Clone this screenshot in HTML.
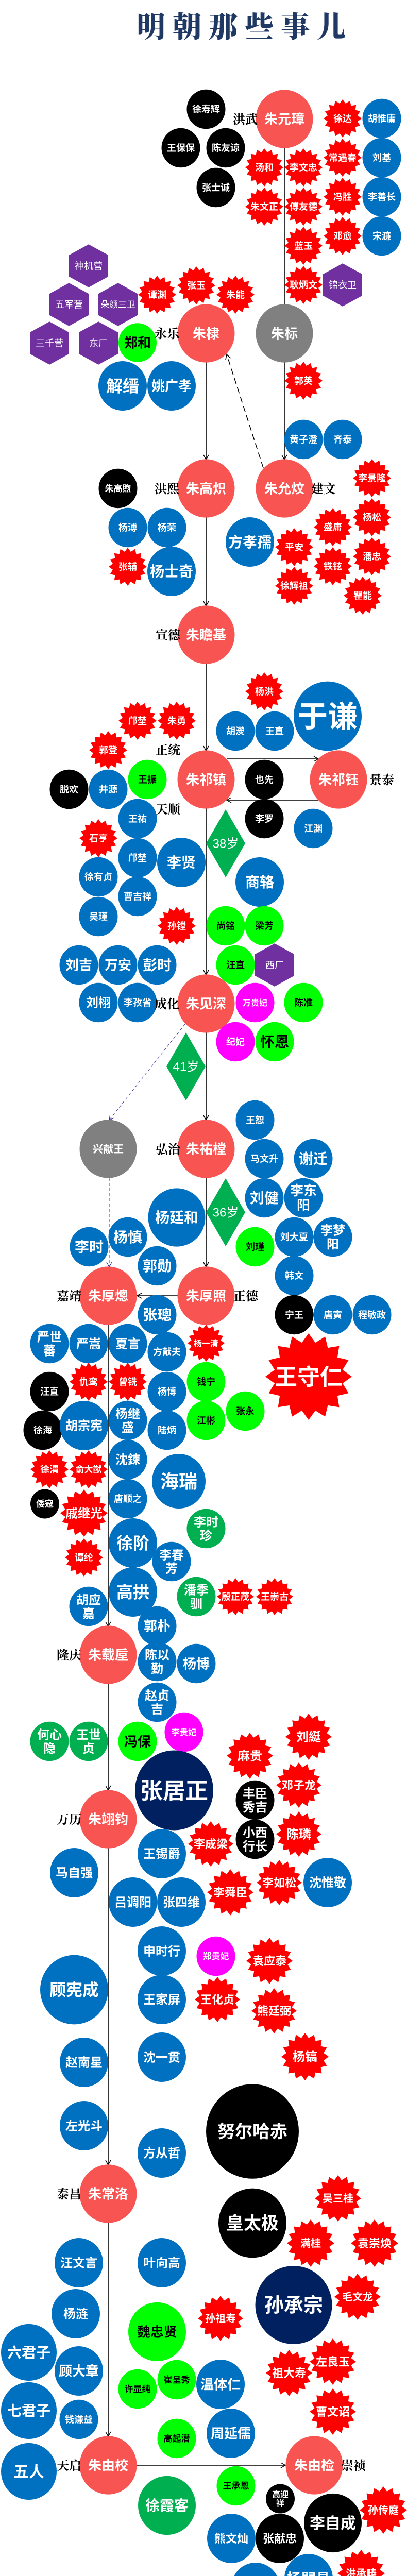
<!DOCTYPE html>
<html><head><meta charset="utf-8">
<style>
html,body{margin:0;padding:0;background:#fff;width:790px;height:5071px;overflow:hidden;}
svg{display:block;}
text{font-family:"Liberation Sans","Noto Sans CJK SC",sans-serif;font-weight:bold;}
.era{font-family:"Liberation Serif","Noto Serif CJK SC",serif;font-weight:bold;fill:#000;}
</style></head>
<body>
<svg id="chart" width="790" height="5071" viewBox="0 0 790 5071" xmlns="http://www.w3.org/2000/svg">
<defs>
<marker id="arr" markerWidth="12" markerHeight="12" refX="10" refY="6" orient="auto" markerUnits="userSpaceOnUse">
<path d="M1,1 L10,6 L1,11" fill="none" stroke="#000" stroke-width="1.5"/></marker>
<marker id="arrp" markerWidth="12" markerHeight="12" refX="10" refY="6" orient="auto" markerUnits="userSpaceOnUse">
<path d="M1,1 L10,6 L1,11" fill="none" stroke="#3030a0" stroke-width="1.2"/></marker>
</defs>
<text x="475" y="72" text-anchor="middle" font-size="56" fill="#1f3864" style="font-family:'Noto Serif CJK SC',serif;font-weight:900;letter-spacing:14px">明朝那些事儿</text>
<g id="lines"></g>
<g id="nodes"></g>
<g id="eras"></g>
<text x="699" y="5049" text-anchor="middle" font-size="24" fill="#c8c8c8" style="font-weight:normal">知乎 @般不丢</text>
</svg>
<script>
// node data: label, x, y, diameter, kind, font size
const nodes = [
["徐寿辉",400,212,75,"K",18],["王保保",351,287,75,"K",18],["陈友谅",438,287,75,"K",18],["张士诚",419,364,75,"K",18],
["朱元璋",552,231,111,"E",26],
["徐达",665,230,74,"R",18],["胡惟庸",741,230,75,"B",18],["常遇春",665,306,74,"R",18],["刘基",741,306,75,"B",18],
["冯胜",665,382,74,"R",18],["李善长",741,382,75,"B",18],["邓愈",665,458,74,"R",18],["宋濂",741,458,75,"B",18],
["汤和",513,325,74,"R",18],["李文忠",589,325,74,"R",18],["朱文正",513,401,74,"R",18],["傅友德",589,401,74,"R",18],
["蓝玉",589,477,74,"R",18],["耿炳文",589,553,74,"R",18],["锦衣卫",665,553,80,"P",18],
["神机营",172,516,80,"P",18],["五军营",134,591,80,"P",18],["朵颜三卫",229,591,80,"P",17],["三千营",96,666,80,"P",18],["东厂",191,666,80,"P",18],
["谭渊",305,572,74,"R",18],["张玉",381,554,74,"R",18],["朱能",457,572,74,"R",18],
["朱棣",400,647,111,"E",26],["朱标",552,647,111,"Y",26],["郑和",267,665,74,"G",26],
["解缙",238,749,94,"B",32],["姚广孝",333,749,94,"B",26],["郭英",589,739,74,"R",18],
["黄子澄",589,853,75,"B",18],["齐泰",665,853,75,"B",18],
["朱高炽",400,948,111,"E",26],["朱允炆",552,948,111,"E",26],["朱高煦",229,948,75,"K",17],
["杨溥",248,1024,75,"B",18],["杨荣",324,1024,75,"B",18],["张辅",248,1100,74,"R",18],["杨士奇",333,1109,94,"B",28],
["方孝孺",485,1052,94,"B",28],["平安",571,1062,74,"R",18],["徐辉祖",571,1137,74,"R",18],["盛庸",646,1023,74,"R",18],["铁铉",646,1099,74,"R",18],
["李景隆",722,928,74,"R",18],["杨松",722,1004,74,"R",18],["潘忠",722,1080,74,"R",18],["瞿能",704,1156,74,"R",18],
["朱瞻基",400,1232,111,"E",26],
["杨洪",513,1342,74,"R",18],["于谦",636,1390,132,"B",58],["胡濙",457,1419,75,"B",18],["王直",533,1419,75,"B",18],
["邝埜",267,1399,74,"R",18],["朱勇",343,1399,74,"R",18],["郭登",210,1456,74,"R",18],
["朱祁镇",400,1513,111,"E",26],["也先",513,1513,75,"K",18],["朱祁钰",657,1513,111,"E",26],["王振",286,1513,75,"G",18],
["脱欢",134,1532,75,"K",18],["井源",210,1532,75,"B",18],["王祐",267,1589,75,"B",18],["李罗",513,1589,75,"K",18],["江渊",608,1608,75,"B",18],
["石亨",191,1627,74,"R",18],["38岁",438,1637,76,"A",24],["邝埜",267,1665,75,"B",18],["李贤",352,1674,94,"B",28],
["徐有贞",191,1702,75,"B",18],["商辂",504,1712,94,"B",28],["曹吉祥",267,1740,75,"B",18],["吴瑾",191,1779,75,"B",18],
["孙镗",343,1797,74,"R",18],["尚铭",438,1797,75,"G",18],["梁芳",513,1797,75,"G",18],["汪直",457,1873,75,"G",18],["西厂",533,1873,80,"P",18],
["刘吉",153,1873,75,"B",26],["万安",229,1873,75,"B",26],["彭时",305,1873,75,"B",28],
["朱见深",400,1948,111,"E",26],["刘栩",191,1946,75,"B",24],["李孜省",267,1946,75,"B",18],["万贵妃",495,1946,75,"M",16],["陈准",589,1946,75,"G",18],
["纪妃",457,2022,75,"M",18],["怀恩",533,2022,75,"G",28],["41岁",361,2070,76,"A",24],
["兴献王",210,2230,111,"Y",20],["朱祐樘",400,2230,111,"E",26],["王恕",495,2174,75,"B",18],["马文升",513,2249,75,"B",18],["谢迁",608,2249,75,"B",28],
["刘健",513,2325,75,"B",28],["李东\n阳",589,2325,75,"B",26],["36岁",438,2353,76,"A",24],["杨廷和",343,2363,111,"B",28],
["杨慎",248,2401,75,"B",28],["李时",173,2420,75,"B",28],["郭勋",305,2457,75,"B",28],["刘瑾",495,2420,75,"G",18],
["刘大夏",571,2401,75,"B",18],["李梦\n阳",646,2401,75,"B",24],["韩文",571,2476,75,"B",18],
["朱厚熜",210,2515,111,"E",26],["朱厚照",400,2515,111,"E",26],["张璁",305,2552,75,"B",28],
["宁王",571,2552,75,"K",18],["唐寅",646,2552,75,"B",18],["程敏政",722,2552,75,"B",18],
["严世\n蕃",96,2608,75,"B",24],["严嵩",172,2608,75,"B",24],["夏言",248,2608,75,"B",24],["方献夫",324,2624,75,"B",18],["杨一清",400,2607,72,"R",16],
["王守仁",599,2672,168,"R",44],["钱宁",400,2682,75,"G",18],["汪直",96,2701,75,"K",18],["仇鸾",172,2682,74,"R",18],["曾铣",248,2682,74,"R",18],
["杨博",324,2701,75,"B",18],["张永",476,2739,75,"G",18],["江彬",400,2757,75,"G",18],["徐海",83,2776,75,"K",18],["胡宗宪",163,2767,94,"B",24],
["杨继\n盛",248,2757,75,"B",24],["陆炳",324,2776,75,"B",18],["徐渭",96,2852,74,"R",18],["俞大猷",172,2852,74,"R",17],["沈鍊",248,2833,75,"B",24],
["海瑞",347,2875,104,"B",36],["倭寇",87,2919,56,"K",17],["戚继光",163,2937,92,"R",24],["唐顺之",248,2909,75,"B",18],
["李时\n珍",400,2967,75,"D",24],["徐阶",258,2995,94,"B",32],["谭纶",163,3023,74,"R",18],["李春\n芳",333,3031,75,"B",24],
["高拱",258,3090,94,"B",32],["潘季\n驯",381,3099,75,"D",24],["殷正茂",457,3099,72,"R",18],["王崇古",533,3099,72,"R",18],
["胡应\n嘉",172,3118,75,"B",24],["郭朴",305,3156,75,"B",26],
["朱载垕",210,3212,111,"E",26],["陈以\n勤",305,3225,75,"B",24],["杨博",381,3229,75,"B",26],
["赵贞\n吉",305,3304,75,"B",24],["李贵妃",357,3362,75,"M",16],["何心\n隐",96,3380,75,"D",24],["王世\n贞",172,3380,75,"D",24],["冯保",267,3380,75,"G",26],
["刘綎",599,3371,90,"R",24],["麻贵",485,3408,90,"R",24],["张居正",338,3475,152,"N",44],["邓子龙",580,3465,88,"R",22],["丰臣\n秀吉",495,3494,75,"K",24],
["朱翊钧",210,3531,111,"E",26],["小西\n行长",495,3570,75,"K",24],["陈璘",580,3560,88,"R",24],["李成梁",409,3579,88,"R",22],
["王锡爵",314,3598,94,"B",24],["马自强",144,3635,94,"B",24],["李舜臣",447,3673,90,"R",22],["李如松",542,3654,88,"R",22],["沈惟敬",636,3654,94,"B",24],
["吕调阳",258,3692,94,"B",24],["张四维",352,3692,94,"B",24],["申时行",314,3787,94,"B",24],["郑贵妃",419,3797,75,"M",17],["袁应泰",523,3806,90,"R",22],
["顾宪成",144,3862,132,"B",32],["王家屏",314,3881,94,"B",24],["王化贞",422,3881,88,"R",22],["熊廷弼",532,3903,88,"R",22],
["杨镐",592,3992,92,"R",24],["赵南星",163,4003,94,"B",24],["沈一贯",314,3993,94,"B",24],
["左光斗",163,4126,94,"B",24],["努尔哈赤",490,4137,180,"K",34],["方从哲",314,4179,94,"B",24],
["朱常洛",210,4258,111,"E",26],["吴三桂",656,4267,90,"R",20],["皇太极",490,4315,132,"K",34],["满桂",603,4354,92,"R",20],["袁崇焕",727,4354,92,"R",22],
["汪文言",153,4392,94,"B",24],["叶向高",314,4392,94,"B",24],["毛文龙",694,4458,90,"R",20],["孙承宗",570,4474,149,"N",38],
["杨涟",147,4491,94,"B",24],["魏忠贤",305,4526,112,"G",26],["孙祖寿",428,4500,88,"R",20],
["六君子",56,4566,108,"B",28],["顾大章",153,4602,94,"B",26],["七君子",56,4679,108,"B",28],["钱谦益",153,4696,75,"B",18],["五人",56,4797,108,"B",30],
["许显纯",267,4637,75,"G",17],["崔呈秀",343,4619,75,"G",17],["温体仁",428,4628,94,"B",26],
["祖大寿",561,4606,90,"R",22],["左良玉",646,4584,90,"R",22],["曹文诏",646,4681,90,"R",22],
["高起潜",343,4733,75,"G",17],["周延儒",448,4723,94,"B",26],
["朱由校",210,4785,111,"E",26],["朱由检",610,4785,111,"E",26],["王承恩",458,4825,75,"G",17],["徐霞客",324,4863,112,"D",28],
["高迎\n祥",544,4850,56,"K",16],["李自成",646,4897,112,"K",30],["孙传庭",744,4872,92,"R",20],
["熊文灿",449,4927,94,"B",22],["张献忠",543,4927,94,"K",22],["杨嗣昌",599,5005,94,"B",28],["卢象昇",496,5022,94,"B",26],["洪承畴",701,4995,92,"R",20]
];
// era labels: text, x, y
const eraNames = ["洪武","永乐","洪熙","建文","宣德","正统","景泰","天顺","成化","弘治","嘉靖","正德","隆庆","万历","泰昌","天启","崇祯"];
const eraX = [476,324,324,628,326,326,741,326,324,326,134,477,134,134,134,134,686];
const eraY = [231,647,948,948,1232,1455,1513,1570,1948,2230,2515,2515,3212,3531,4258,4785,4785];
// connectors: x1,y1,x2,y2,style
const links = [
[552,287,552,592,"s"],[400,703,400,892,"a"],[552,703,552,892,"a"],[511,908,440,688,"d"],
[400,1004,400,1176,"a"],[400,1288,400,1457,"a"],[440,1473,618,1473,"a"],[618,1553,440,1553,"a"],
[400,1569,400,1892,"a"],[359,1988,212,2174,"p"],[400,2004,400,2174,"a"],[212,2286,212,2459,"p"],
[400,2286,400,2459,"a"],[345,2515,266,2515,"a"],[210,2571,210,3157,"a"],[210,3268,210,3475,"a"],
[210,3587,210,4202,"a"],[210,4314,210,4729,"a"],[266,4785,554,4785,"a"]
];
const NS="http://www.w3.org/2000/svg";
const colors={E:"#f75452",B:"#0070c0",R:"#ff0000",K:"#000000",P:"#7030a0",G:"#00ff00",D:"#00b050",M:"#ff00ff",Y:"#808080",N:"#002060",A:"#00b050"};
const lg=document.getElementById("lines");
links.forEach(l=>{
  const ln=document.createElementNS(NS,"line");
  
  
  ln.setAttribute("x1",l[0]);ln.setAttribute("y1",l[1]);ln.setAttribute("x2",l[2]);ln.setAttribute("y2",l[3]);
  if(l[4]==="p"){ln.setAttribute("stroke","#3030a0");ln.setAttribute("stroke-width","1");ln.setAttribute("stroke-dasharray","6,4");ln.setAttribute("marker-end","url(#arrp)");}
  else{ln.setAttribute("stroke","#000");ln.setAttribute("stroke-width","1.6");
    if(l[4]==="d")ln.setAttribute("stroke-dasharray","12,7");
    if(l[4]!=="s")ln.setAttribute("marker-end","url(#arr)");}
  lg.appendChild(ln);
});
const ng=document.getElementById("nodes");
function starPts(cx,cy,r){let p=[];const n=16;for(let i=0;i<2*n;i++){const rr=i%2?r*0.8:r;const a=Math.PI*i/n-Math.PI/2;p.push((cx+rr*Math.cos(a)).toFixed(1)+","+(cy+rr*Math.sin(a)).toFixed(1));}return p.join(" ");}
function hexPts(cx,cy,w){const h=w*1.1;const pts=[[cx,cy-h/2],[cx+w/2,cy-h/4],[cx+w/2,cy+h/4],[cx,cy+h/2],[cx-w/2,cy+h/4],[cx-w/2,cy-h/4]];return pts.map(p=>p.join(",")).join(" ");}
nodes.forEach(n=>{
  const [label,x,y,d,k,fs]=n;
  const g=document.createElementNS(NS,"g");
  
  
  let sh;
  if(k==="R"){sh=document.createElementNS(NS,"polygon");sh.setAttribute("points",starPts(x,y,d/2));}
  else if(k==="P"){sh=document.createElementNS(NS,"polygon");sh.setAttribute("points",hexPts(x,y,d*0.95));}
  else if(k==="A"){sh=document.createElementNS(NS,"polygon");sh.setAttribute("points",`${x},${y-66} ${x+d/2},${y} ${x},${y+66} ${x-d/2},${y}`);}
  else{sh=document.createElementNS(NS,"ellipse");sh.setAttribute("cx",x);sh.setAttribute("cy",y);sh.setAttribute("rx",d/2);sh.setAttribute("ry",d/2*1.02);}
  sh.setAttribute("fill",colors[k]);
  g.appendChild(sh);
  const t=document.createElementNS(NS,"text");
  t.setAttribute("text-anchor","middle");
  t.setAttribute("font-size",fs);
  t.setAttribute("fill",(k==="G")?"#000":"#fff");
  if(k==="A"||k==="P")t.style.fontWeight="normal";
  const lines=label.split("\n");
  lines.forEach((s,i)=>{
    const sp=document.createElementNS(NS,"tspan");
    sp.setAttribute("x",x);
    sp.setAttribute("y",y+fs*0.36+(i-(lines.length-1)/2)*fs*1.1);
    sp.textContent=s;t.appendChild(sp);
  });
  g.appendChild(t);
  ng.appendChild(g);
});
const eg=document.getElementById("eras");
eraNames.forEach((s,i)=>{
  const t=document.createElementNS(NS,"text");
  
  
  t.setAttribute("class","era");
  t.setAttribute("x",eraX[i]);t.setAttribute("y",eraY[i]+9);
  t.setAttribute("text-anchor","middle");t.setAttribute("font-size","24");
  t.textContent=s;eg.appendChild(t);
});
</script>
</body></html>
